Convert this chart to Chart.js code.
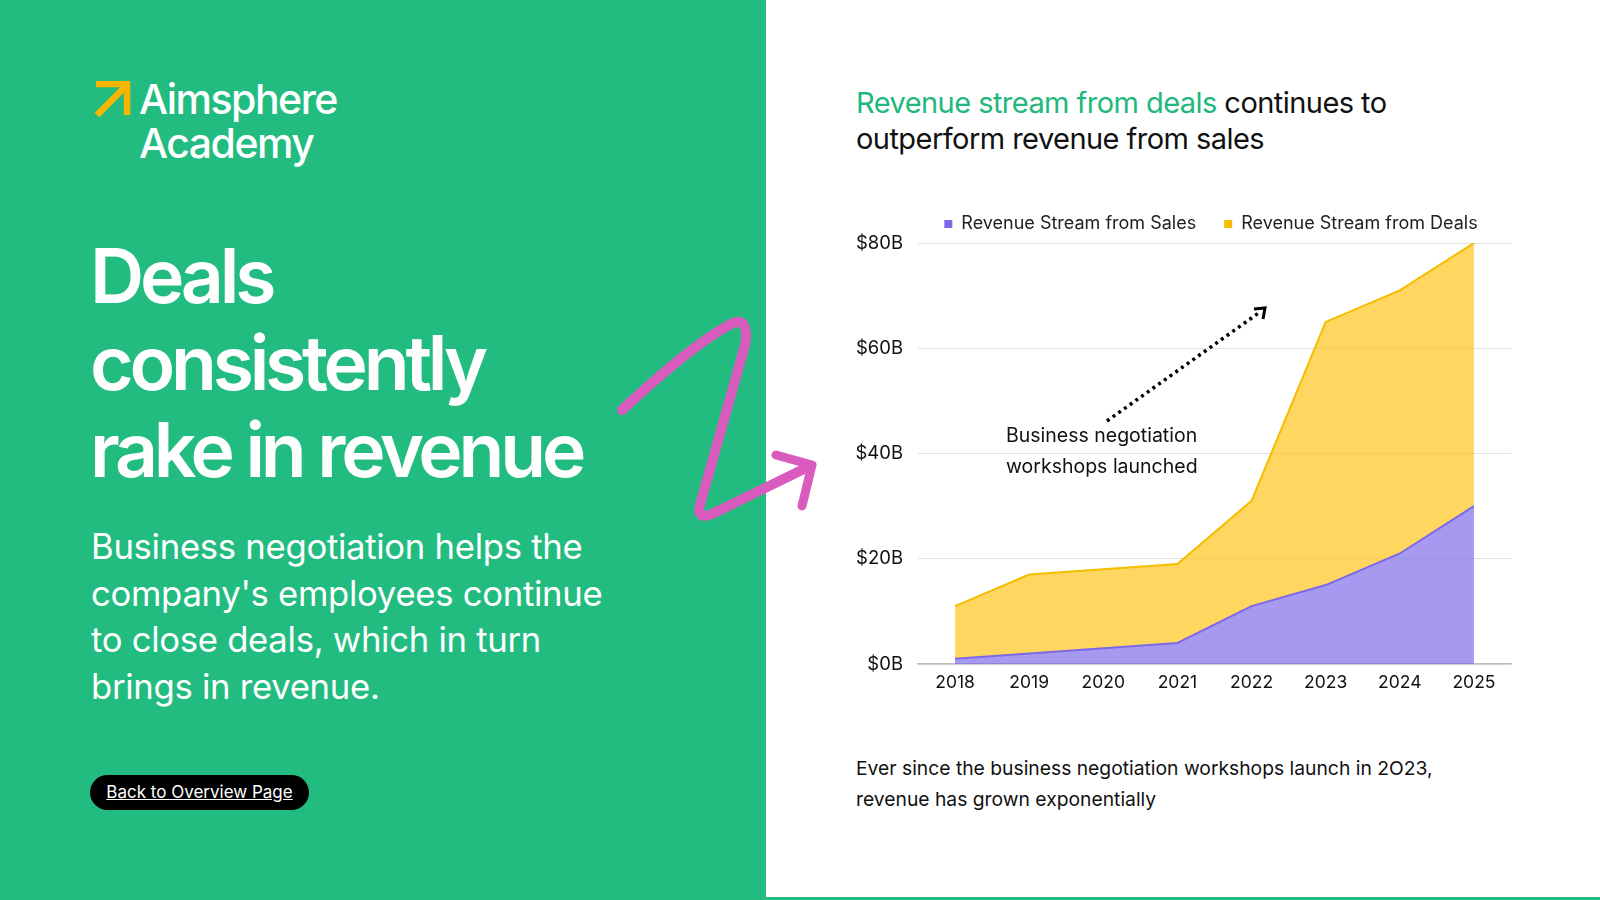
<!DOCTYPE html>
<html>
<head>
<meta charset="utf-8">
<script src="https://cdn.jsdelivr.net/npm/chart.js@4.4.1/dist/chart.umd.min.js"></script>
<style>
  html, body { margin: 0; padding: 0; }
  body { width: 1600px; height: 900px; position: relative; overflow: hidden; background: #fff; font-family: Inter, sans-serif; }
  .panel { position: absolute; left: 0; top: 0; width: 766px; height: 900px; background: #22bc80; }
  .bottomline { position: absolute; left: 0; top: 897px; width: 1600px; height: 3px; background: #22bc80; }
  .logo { position: absolute; left: 139px; top: 77px; color: #fff; font-size: 41px; font-weight: 500; letter-spacing: -1.5px; line-height: 44px; }
  .logo-arrow { position: absolute; left: 92px; top: 81px; }
  .headline { position: absolute; left: 90px; top: 232px; color: #fff; font-size: 75px; font-weight: 600; letter-spacing: -4.2px; line-height: 87px; }
  .para { position: absolute; left: 91px; top: 523px; color: #fff; font-size: 34.7px; font-weight: 400; line-height: 46.5px; letter-spacing: -0.3px; }
  .btn { position: absolute; left: 90px; top: 775px; width: 219px; height: 35px; border-radius: 18px; background: #000; color: #fff; font-size: 17px; line-height: 35px; text-align: center; text-decoration: underline; }
  .title { position: absolute; left: 856px; top: 85px; font-size: 29px; line-height: 35.5px; color: #111; letter-spacing: -0.55px; }
  .title span { color: #22b87d; }
  .note { position: absolute; left: 1006px; top: 420px; font-size: 19.5px; line-height: 30.5px; color: #111; }
  .foot { position: absolute; left: 856px; top: 753px; font-size: 19.3px; line-height: 30.6px; color: #111; }
  #wrap { position: absolute; left: 850px; top: 187px; width: 722px; height: 506px; }
  svg.over { position: absolute; left: 0; top: 0; }
</style>
</head>
<body>
<div class="panel"></div>
<div class="bottomline"></div>

<svg class="logo-arrow" width="40" height="40" viewBox="0 0 40 40">
  <path d="M4 3 H35 V34" fill="none" stroke="#f7b500" stroke-width="6.5"/>
  <path d="M33 6 L5 34" fill="none" stroke="#f7b500" stroke-width="6.5"/>
</svg>
<div class="logo">Aimsphere<br>Academy</div>

<div class="headline">Deals<br>consistently<br>rake in revenue</div>
<div class="para">Business negotiation helps the<br>company's employees continue<br>to close deals, which in turn<br>brings in revenue.</div>
<div class="btn">Back to Overview Page</div>

<div class="title"><span>Revenue stream from deals</span> continues to<br>outperform revenue from sales</div>

<div id="wrap"><canvas id="chart"></canvas></div>

<div class="note">Business negotiation<br>workshops launched</div>
<div class="foot">Ever since the business negotiation workshops launch in 2O23,<br>revenue has grown exponentially</div>

<svg class="over" width="1600" height="900">
  <!-- pink squiggle -->
  <path d="M622 410 C 660 375, 700 340, 733 323 C 745 318, 748 330, 745 345 L 700 505 C 697 515, 703 518, 712 514 L 808 467"
        fill="none" stroke="#d95bbd" stroke-width="10" stroke-linecap="round" stroke-linejoin="round"/>
  <path d="M776 455 L 812 465 L 802 506" fill="none" stroke="#d95bbd" stroke-width="9" stroke-linecap="round" stroke-linejoin="round"/>
  <!-- dotted arrow -->
  <line x1="1107" y1="421" x2="1260" y2="312" stroke="#000" stroke-width="3.5" stroke-dasharray="3 4"/>
  <path d="M1254 309 L 1265 308 L 1263 319" fill="none" stroke="#000" stroke-width="3"/>
</svg>

<script>
const years = ['2018', '2019', '2020', '2021', '2022', '2023', '2024', '2025'];
const salesRevenue = [1, 2, 3, 4, 11, 15, 21, 30];
const dealsRevenue = [10, 15, 15, 15, 20, 50, 50, 50];
const yTicks = [0, 20, 40, 60, 80];

const ctx = document.getElementById('chart').getContext('2d');
const myChart = new Chart(ctx, {
    type: 'line',
    data: {
        labels: years,
        datasets: [{
            label: 'Revenue Stream from Sales',
            data: salesRevenue,
            borderColor: '#7c69e8',
            backgroundColor: 'rgba(124, 105, 232, 0.68)',
            borderWidth: 2,
            pointRadius: 0,
            fill: 'origin'
        }, {
            label: 'Revenue Stream from Deals',
            data: dealsRevenue,
            borderColor: '#f5bd00',
            backgroundColor: 'rgba(255, 194, 20, 0.68)',
            borderWidth: 2,
            pointRadius: 0,
            fill: '-1'
        }]
    },
    options: {
        responsive: true,
        maintainAspectRatio: false,
        animation: false,
        layout: { padding: 0 },
        plugins: {
            tooltip: { enabled: false },
            legend: {
                position: 'top',
                labels: {
                    color: '#222',
                    font: { family: 'Inter', size: 18 },
                    boxWidth: 8,
                    boxHeight: 8,
                    padding: 28,
                    generateLabels: function (chart) {
                        const items = Chart.defaults.plugins.legend.labels.generateLabels(chart);
                        items.forEach(function (it) {
                            it.fillStyle = it.strokeStyle;
                            it.lineWidth = 0;
                        });
                        return items;
                    }
                }
            }
        },
        scales: {
            x: {
                offset: true,
                grid: { display: false },
                border: { color: '#bdbdbd', width: 1.5 },
                ticks: { color: '#111', font: { family: 'Inter', size: 17.5 }, padding: 0 }
            },
            y: {
                stacked: true,
                min: 0,
                max: 80,
                afterBuildTicks: function (axis) {
                    axis.ticks = yTicks.map(function (v) { return { value: v }; });
                },
                afterFit: function (axis) { axis.width = 68; },
                grid: { color: '#e2e2e2', drawTicks: false },
                border: { display: false },
                ticks: {
                    color: '#111',
                    font: { family: 'Inter', size: 18.5 },
                    padding: 15,
                    callback: function (v) { return '$' + v + 'B'; }
                }
            },
            yRight: {
                position: 'right',
                min: 0,
                max: 80,
                afterFit: function (axis) { axis.width = 61; },
                grid: { display: false },
                border: { display: false },
                ticks: { display: false }
            }
        }
    }
});
</script>
</body>
</html>
